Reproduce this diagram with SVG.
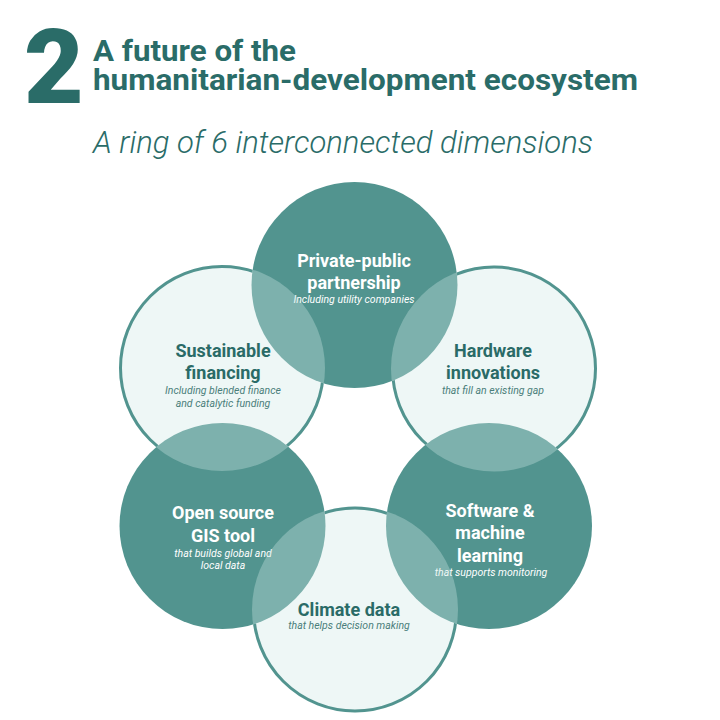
<svg xmlns="http://www.w3.org/2000/svg" width="720" height="720" viewBox="0 0 720 720">
  <style>
    .title { font-family: Roboto, "Liberation Sans", sans-serif; fill: #2a6c68; }
    .dark { fill: #52948f; }
    .lightfill { fill: #cde8e5; fill-opacity: 0.35; }
    .ring { fill: none; stroke: #52948f; stroke-width: 3; }
    .lbl { font-family: Roboto, "Liberation Sans", sans-serif; font-weight: 700; font-size: 18px; text-anchor: middle; }
    .sub { font-family: Roboto, "Liberation Sans", sans-serif; font-style: italic; font-weight: 400; font-size: 10.5px; text-anchor: middle; }
    .onDark { fill: #ffffff; }
    .onLight { fill: #2a6b67; }
    .subLight { fill: #4a7e7a; }
  </style>
  <defs>
    <mask id="outsideDark" maskUnits="userSpaceOnUse" x="0" y="0" width="720" height="720">
      <rect x="0" y="0" width="720" height="720" fill="#fff"/>
      <circle cx="354.5" cy="285" r="103" fill="#000"/>
      <circle cx="222.5" cy="526" r="103" fill="#000"/>
      <circle cx="489" cy="526" r="103" fill="#000"/>
    </mask>
  </defs>

  <g id="header">
    <text class="title" x="24" y="103" font-size="103" font-weight="900">2</text>
    <text class="title" x="93" y="61" font-size="29" font-weight="700" textLength="203" lengthAdjust="spacingAndGlyphs">A future of the</text>
    <text class="title" x="93" y="90" font-size="29" font-weight="700" textLength="545" lengthAdjust="spacingAndGlyphs">humanitarian-development ecosystem</text>
    <text class="title" x="93" y="153" font-size="31" font-weight="300" font-style="italic" fill="#3b7a76" textLength="500" lengthAdjust="spacingAndGlyphs">A ring of 6 interconnected dimensions</text>
  </g>

  <g id="node-private-public">
    <circle class="dark" cx="354.5" cy="285" r="103"/>
    <text class="lbl onDark" x="354" y="267">Private-public</text>
    <text class="lbl onDark" x="354" y="289">partnership</text>
    <text class="sub onDark" x="354" y="303">Including utility companies</text>
  </g>

  <g id="node-open-source">
    <circle class="dark" cx="222.5" cy="526" r="103"/>
    <text class="lbl onDark" x="223" y="519">Open source</text>
    <text class="lbl onDark" x="223" y="542">GIS tool</text>
    <text class="sub onDark" x="223" y="557">that builds global and</text>
    <text class="sub onDark" x="223" y="569">local data</text>
  </g>

  <g id="node-software">
    <circle class="dark" cx="489" cy="526" r="103"/>
    <text class="lbl onDark" x="490" y="517">Software &amp;</text>
    <text class="lbl onDark" x="490" y="539">machine</text>
    <text class="lbl onDark" x="490" y="562">learning</text>
    <text class="sub onDark" x="491" y="576">that supports monitoring</text>
  </g>

  <g id="node-sustainable">
    <circle class="lightfill" cx="222" cy="368" r="103"/>
    <circle class="ring" cx="222" cy="368" r="101.5" mask="url(#outsideDark)"/>
    <text class="lbl onLight" x="223" y="357">Sustainable</text>
    <text class="lbl onLight" x="223" y="379">financing</text>
    <text class="sub subLight" x="223" y="394">Including blended finance</text>
    <text class="sub subLight" x="223" y="407">and catalytic funding</text>
  </g>

  <g id="node-hardware">
    <circle class="lightfill" cx="494" cy="368.5" r="103"/>
    <circle class="ring" cx="494" cy="368.5" r="101.5" mask="url(#outsideDark)"/>
    <text class="lbl onLight" x="493" y="357">Hardware</text>
    <text class="lbl onLight" x="493" y="379">innovations</text>
    <text class="sub subLight" x="493" y="394">that fill an existing gap</text>
  </g>

  <g id="node-climate">
    <circle class="lightfill" cx="355" cy="609.5" r="103"/>
    <circle class="ring" cx="355" cy="609.5" r="101.5" mask="url(#outsideDark)"/>
    <text class="lbl onLight" x="349" y="616">Climate data</text>
    <text class="sub subLight" x="349" y="629">that helps decision making</text>
  </g>

  <g id="connectors"></g>
</svg>
